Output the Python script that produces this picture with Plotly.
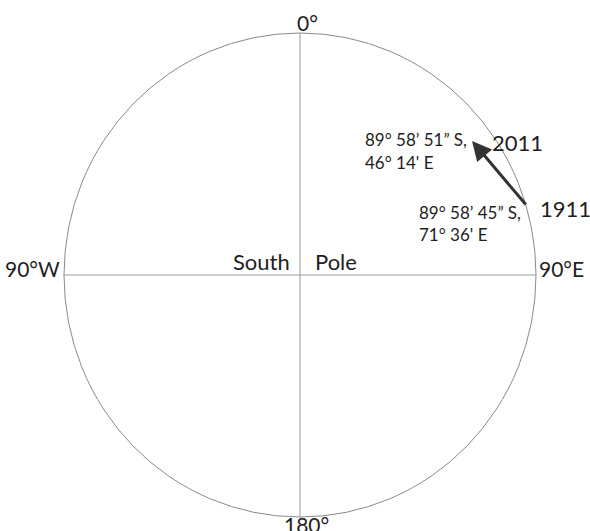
import plotly.graph_objects as go

# ---- data ----
compass_labels = ["0°", "90°E", "180°", "90°W"]
pole_words = ["South", "Pole"]
years = ["1911", "2011"]
lat_labels = ["89° 58’ 45” S,", "89° 58’ 51” S,"]
lon_labels = ["71° 36' E", "46° 14' E"]
# pole-marker positions (east, north) in units of the circle radius
pole_east = [0.962, 0.729]
pole_north = [0.285, 0.554]

# ---- layout helpers (pixel -> chart units) ----
W, H = 590, 531
CX, CY, RX, RY = 300, 275, 236, 242
def px2x(px):
    return (px - CX) / RX
def px2y(py):
    return (CY - py) / RY

FONT = "Lato"
TXT = "#1e1e1e"

fig = go.Figure()
fig.add_trace(go.Scatter(x=[px2x(0), px2x(W)], y=[px2y(H), px2y(0)], mode="markers",
                         marker=dict(opacity=0), hoverinfo="skip", showlegend=False))

shapes = [
    dict(type="circle", xref="x", yref="y", x0=-1, x1=1, y0=-1, y1=1,
         line=dict(color="#8a8a8a", width=1)),
    dict(type="line", xref="x", yref="y", x0=0, x1=0, y0=-1, y1=1,
         line=dict(color="#9a9a9a", width=1)),
    dict(type="line", xref="x", yref="y", x0=-1, x1=1, y0=0, y1=0,
         line=dict(color="#9a9a9a", width=1)),
]

ann = []
def text(t, px, py, size, xanchor="center"):
    ann.append(dict(x=px2x(px), y=px2y(py), text=t, showarrow=False, xref="x", yref="y",
                    xanchor=xanchor, yanchor="middle",
                    font=dict(family=FONT, size=size, color=TXT)))

# compass labels
text(compass_labels[0], 307, 22, 21)
text(compass_labels[1], 537, 268, 21, "left")
text(compass_labels[2], 306, 524, 21)
text(compass_labels[3], 62, 268, 21, "right")
# pole words
text(pole_words[0], 292, 261, 22, "right")
text(pole_words[1], 313, 261, 22, "left")
# years
text(years[0], 538, 208, 22, "left")
text(years[1], 490, 142, 22, "left")
# coordinates
text(lat_labels[0], 417, 212, 17, "left")
text(lon_labels[0], 417, 234, 17, "left")
text(lat_labels[1], 363, 139, 17, "left")
text(lon_labels[1], 363, 162, 17, "left")

# movement arrow 1911 -> 2011
ann.append(dict(x=pole_east[1], y=pole_north[1], ax=pole_east[0], ay=pole_north[0],
                xref="x", yref="y", axref="x", ayref="y", text="", showarrow=True,
                arrowhead=2, arrowsize=1.3, arrowwidth=3, arrowcolor="#333333",
                standoff=0, startstandoff=0))

fig.update_layout(
    width=W, height=H, autosize=False,
    margin=dict(l=0, r=0, t=0, b=0),
    paper_bgcolor="white", plot_bgcolor="white",
    shapes=shapes, annotations=ann, showlegend=False,
    xaxis=dict(range=[px2x(0), px2x(W)], visible=False, fixedrange=True),
    yaxis=dict(range=[px2y(H), px2y(0)], visible=False, fixedrange=True),
)

fig.write_html("out.html", config={"displayModeBar": False, "staticPlot": True},
               post_script="document.body.style.margin='0';")
